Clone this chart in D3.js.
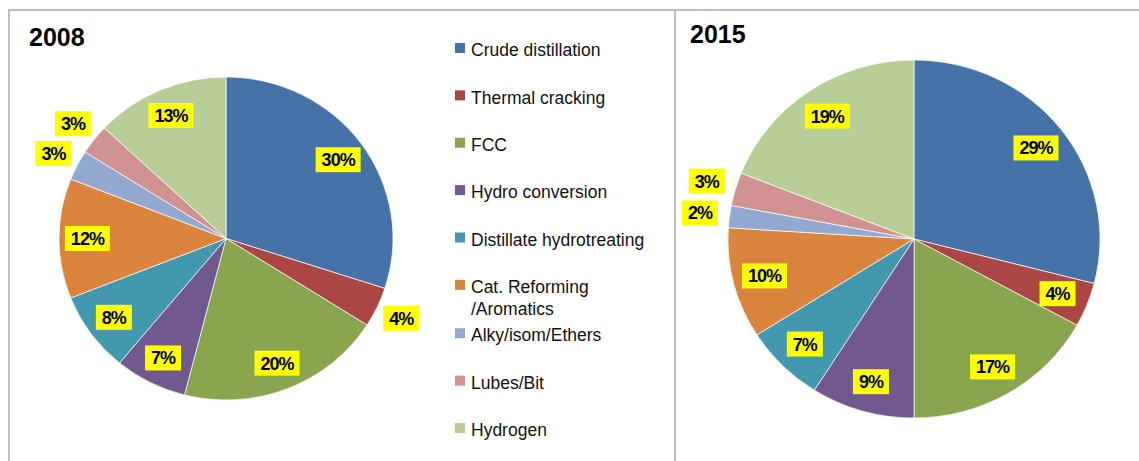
<!DOCTYPE html>
<html lang="en">
<head>
    <meta charset="UTF-8">
    <title>Refinery units 2008 / 2015</title>
    <script src="https://d3js.org/d3.v7.min.js"></script>
    <style>
        body { margin: 0; background: #fff; }
        text { font-family: "Liberation Sans", Arial, sans-serif; }
    </style>
</head>
<body>
    <svg id="chart" width="1139" height="461"></svg>

    <script>
        // Data
        const categories = ["Crude distillation", "Thermal cracking", "FCC", "Hydro conversion",
            "Distillate hydrotreating", "Cat. Reforming\n/Aromatics", "Alky/isom/Ethers", "Lubes/Bit", "Hydrogen"];
        const values2008 = [30, 4, 20, 7, 8, 12, 3, 3, 13];
        const values2015 = [29, 4, 17, 9, 7, 10, 2, 3, 19];
        const years = ["2008", "2015"];

        const colors = ["#4572A7", "#AA4643", "#89A54E", "#71588F", "#4198AF",
            "#DB843D", "#93A9CF", "#D19392", "#B9CD96"];

        const svg = d3.select("#chart");
        const color = d3.scaleOrdinal().domain(categories).range(colors);

        // Panel borders
        svg.append("line").attr("x1", 8).attr("x2", 1139).attr("y1", 10).attr("y2", 10)
            .attr("stroke", "#c0c0c0").attr("stroke-width", 2);
        svg.append("line").attr("x1", 9).attr("x2", 9).attr("y1", 9).attr("y2", 461)
            .attr("stroke", "#c0c0c0").attr("stroke-width", 2);
        svg.append("line").attr("x1", 675).attr("x2", 675).attr("y1", 9).attr("y2", 461)
            .attr("stroke", "#c0c0c0").attr("stroke-width", 2);

        const pie = d3.pie().sort(null).value(d => d);

        // one pie per year; rx/ry because the source image is slightly squashed
        function drawPie(values, title, cx, cy, rx, ry, titleX, titleY) {
            svg.append("text").attr("x", titleX).attr("y", titleY)
                .attr("font-size", 25).attr("font-weight", "bold").attr("fill", "#000")
                .text(title);

            const k = ry / rx;
            const arcs = pie(values);
            const arc = d3.arc().innerRadius(0).outerRadius(rx);

            const g = svg.append("g").attr("transform", `translate(${cx},${cy})`);
            g.append("g").attr("transform", `scale(1,${k})`)
                .selectAll("path")
                .data(arcs)
                .enter().append("path")
                .attr("d", arc)
                .attr("fill", (d, i) => color(categories[i]))
                .attr("stroke", "#fff")
                .attr("stroke-width", 0.7);

            const inR = rx * 0.83, outR = rx * 1.16;
            const inArc = d3.arc().innerRadius(inR).outerRadius(inR);
            const outArc = d3.arc().innerRadius(outR).outerRadius(outR);

            const labels = g.selectAll(".lbl")
                .data(arcs)
                .enter().append("g")
                .attr("class", "lbl");

            labels.each(function(d) {
                const lg = d3.select(this);
                const t = lg.append("text")
                    .attr("text-anchor", "middle")
                    .attr("dy", "0.36em")
                    .attr("font-size", 18)
                    .attr("font-weight", "bold")
                    .attr("letter-spacing", -1)
                    .attr("fill", "#000")
                    .text(d.value + "%");
                const w = t.node().getComputedTextLength() + 12;
                // small slices get their label outside the pie
                const fits = (d.endAngle - d.startAngle) * inR >= w;
                const c = fits ? inArc.centroid(d) : outArc.centroid(d);
                lg.attr("transform", `translate(${c[0]},${c[1] * k})`);
                lg.insert("rect", "text")
                    .attr("x", -w / 2).attr("y", -12.5)
                    .attr("width", w).attr("height", 25)
                    .attr("fill", "#FFFF00");
            });
        }

        drawPie(values2008, years[0], 226, 238.5, 167, 161.5, 29, 46);
        drawPie(values2015, years[1], 914, 239, 186, 179, 690, 43);

        // Legend
        const legendY = d3.scalePoint().domain(d3.range(categories.length)).range([50, 429]);
        const legend = svg.append("g");
        categories.forEach((name, i) => {
            let y = legendY(i);
            if (i > 5) y += 1;
            legend.append("rect")
                .attr("x", 455).attr("y", y - 7)
                .attr("width", 10).attr("height", 10)
                .attr("fill", color(name));
            const t = legend.append("text")
                .attr("x", 471).attr("y", y)
                .attr("font-size", 17.5)
                .attr("fill", "#111");
            name.split("\n").forEach((line, j) => {
                t.append("tspan").attr("x", 471).attr("dy", j === 0 ? "0.35em" : 22).text(line);
            });
        });
    </script>
</body>
</html>
